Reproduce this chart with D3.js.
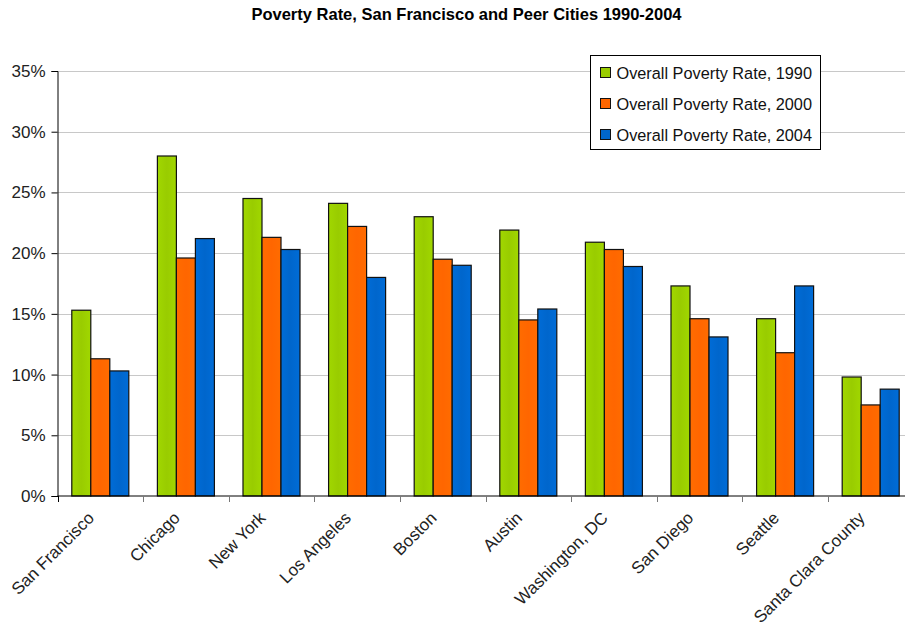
<!DOCTYPE html>
<head>
  <meta charset="utf-8">
  <title>Poverty Rate, San Francisco and Peer Cities 1990-2004</title>
  <style>
    body { margin: 0; background: #fff; font-family: "Liberation Sans", Arial, sans-serif; }
  </style>
  <script src="https://cdn.jsdelivr.net/npm/d3@7/dist/d3.min.js"></script>
</head>
<body>
<script>
  // data
  var cities = ["San Francisco", "Chicago", "New York", "Los Angeles", "Boston",
                "Austin", "Washington, DC", "San Diego", "Seattle", "Santa Clara County"];
  var seriesNames = ["Overall Poverty Rate, 1990", "Overall Poverty Rate, 2000", "Overall Poverty Rate, 2004"];
  var rate1990 = [15.3, 28.0, 24.5, 24.1, 23.0, 21.9, 20.9, 17.3, 14.6, 9.8];
  var rate2000 = [11.3, 19.6, 21.3, 22.2, 19.5, 14.5, 20.3, 14.6, 11.8, 7.5];
  var rate2004 = [10.3, 21.2, 20.3, 18.0, 19.0, 15.4, 18.9, 13.1, 17.3, 8.8];
  var yTicks = [0, 5, 10, 15, 20, 25, 30, 35];
  var colors = ["#99cc00", "#ff6600", "#0066cc"];

  var width = 905, height = 626;
  var margin = {top: 71, left: 57.5, bottom: 496, right: 913.5};

  var svg = d3.select("body").append("svg")
      .attr("width", width)
      .attr("height", height);

  var table = cities.map(function (c, i) {
    return {city: c, values: [rate1990[i], rate2000[i], rate2004[i]]};
  });

  var x0 = d3.scaleBand()
      .domain(cities)
      .range([margin.left, margin.right])
      .paddingInner(0.334)
      .paddingOuter(0.167);
  var x1 = d3.scaleBand()
      .domain([0, 1, 2])
      .range([0, x0.bandwidth()]);
  var y = d3.scaleLinear()
      .domain([0, 35])
      .range([margin.bottom, margin.top]);

  // title
  svg.append("text")
    .attr("x", 466.5)
    .attr("y", 20)
    .attr("text-anchor", "middle")
    .style("font-weight", "bold")
    .style("font-size", "16.5px")
    .text("Poverty Rate, San Francisco and Peer Cities 1990-2004");

  // gridlines
  svg.append("g")
    .selectAll("line")
    .data(yTicks.slice(1))
    .enter().append("line")
      .attr("x1", margin.left)
      .attr("x2", width)
      .attr("y1", function (d) { return Math.round(y(d)) + 0.5; })
      .attr("y2", function (d) { return Math.round(y(d)) + 0.5; })
      .attr("stroke", "#c8c8c8")
      .attr("stroke-width", 1);

  // slight sheen on the bars
  var defs = svg.append("defs");
  colors.forEach(function (c, i) {
    var g = defs.append("linearGradient").attr("id", "grad" + i);
    g.append("stop").attr("offset", "0%").attr("stop-color", d3.color(c).brighter(0.15));
    g.append("stop").attr("offset", "50%").attr("stop-color", c);
    g.append("stop").attr("offset", "100%").attr("stop-color", d3.color(c).brighter(0.15));
  });

  // bars
  var groups = svg.append("g")
    .selectAll("g")
    .data(table)
    .enter().append("g")
      .attr("transform", function (d) { return "translate(" + x0(d.city) + ",0)"; });

  groups.selectAll("rect")
    .data(function (d) { return d.values; })
    .enter().append("rect")
      .attr("x", function (d, i) { return x1(i); })
      .attr("y", function (d) { return y(d); })
      .attr("width", x1.bandwidth())
      .attr("height", function (d) { return y(0) - y(d); })
      .attr("fill", function (d, i) { return "url(#grad" + i + ")"; })
      .attr("stroke", "#111")
      .attr("stroke-width", 1.2);

  // y axis
  var yAxis = svg.append("g")
    .attr("transform", "translate(" + margin.left + ",0)")
    .call(d3.axisLeft(y).tickValues(yTicks).tickSize(6).tickPadding(6)
      .tickFormat(function (d) { return d + "%"; }));
  yAxis.select(".domain").attr("stroke", "#000");
  yAxis.selectAll("text")
    .style("font-size", "17px")
    .style("font-family", "'Liberation Sans', Arial, sans-serif")
    .attr("fill", "#222");

  // x axis: ticks between categories
  var boundaries = cities.map(function (c, i) { return margin.left + x0.step() * i; });
  var xAxis = svg.append("g");
  xAxis.append("line")
    .attr("x1", margin.left).attr("x2", width)
    .attr("y1", y(0)).attr("y2", y(0))
    .attr("stroke", "#000");
  xAxis.selectAll(".tk")
    .data(boundaries)
    .enter().append("line")
      .attr("class", "tk")
      .attr("x1", function (d) { return Math.round(d) + 0.5; })
      .attr("x2", function (d) { return Math.round(d) + 0.5; })
      .attr("y1", y(0))
      .attr("y2", y(0) + 6)
      .attr("stroke", function (d, i) { return i === 0 ? "#000" : "#777"; });

  xAxis.selectAll("text")
    .data(cities)
    .enter().append("text")
      .attr("text-anchor", "end")
      .attr("transform", function (d) {
        return "translate(" + (x0(d) + x0.bandwidth() / 2 - 5) + "," + (y(0) + 23) + ") rotate(-45)";
      })
      .style("font-size", "17px")
      .attr("fill", "#222")
      .text(function (d) { return d; });

  // legend
  var legend = svg.append("g").attr("transform", "translate(590.5,55.5)");
  legend.append("rect")
    .attr("width", 230)
    .attr("height", 94)
    .attr("fill", "#fff")
    .attr("stroke", "#000");
  seriesNames.forEach(function (name, i) {
    var row = legend.append("g").attr("transform", "translate(10," + (17 + i * 31) + ")");
    row.append("rect")
      .attr("x", 0).attr("y", -5)
      .attr("width", 10).attr("height", 10)
      .attr("fill", colors[i])
      .attr("stroke", "#111");
    row.append("text")
      .attr("x", 16)
      .attr("y", 6)
      .style("font-size", "16.3px")
      .attr("fill", "#111")
      .text(name);
  });
</script>
</body>
